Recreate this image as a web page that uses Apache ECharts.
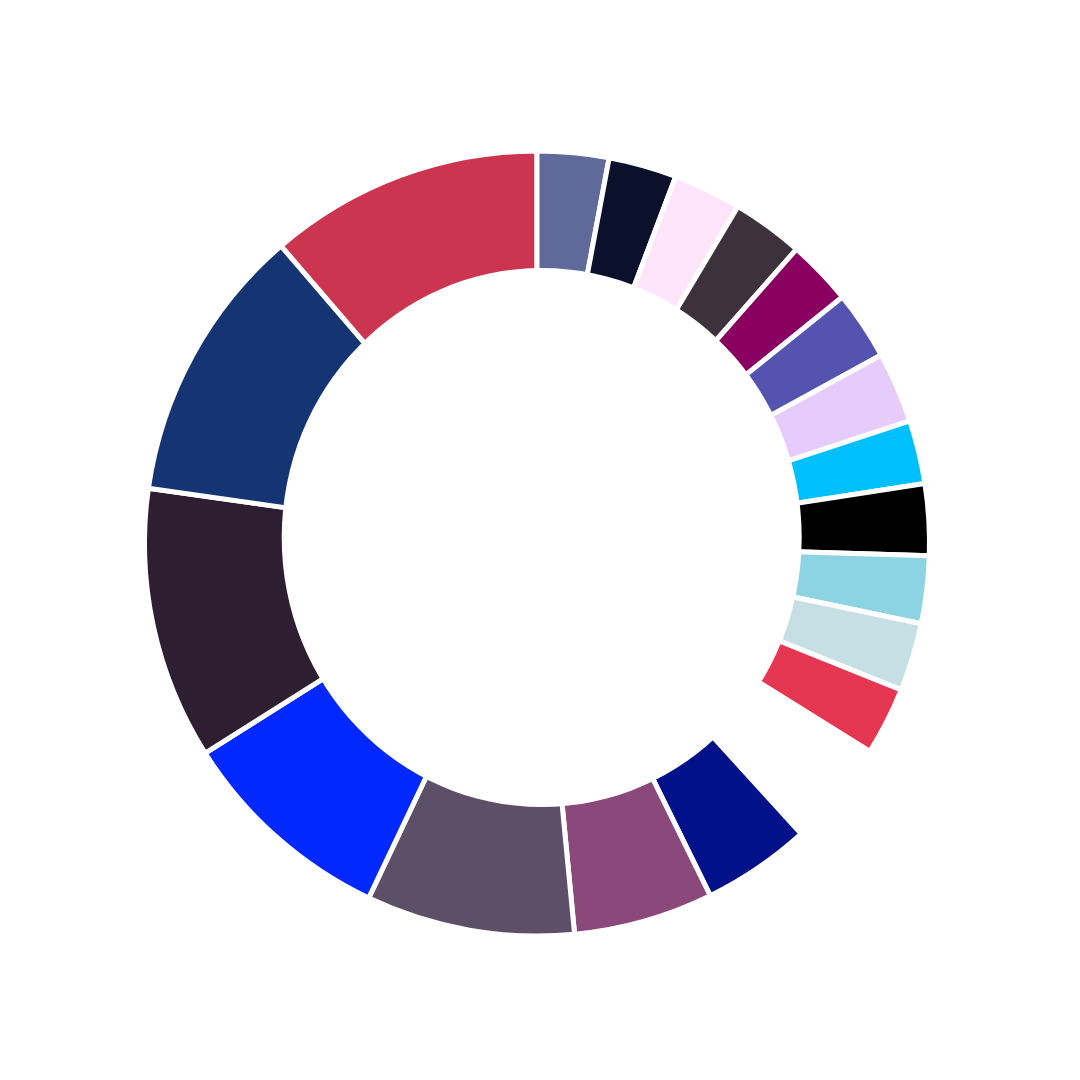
<!DOCTYPE html>
<html>
<head>
<meta charset="utf-8">
<script src="https://cdn.jsdelivr.net/npm/echarts@6/dist/echarts.min.js"></script>
<style>
html,body{margin:0;padding:0;background:#ffffff;}
#chart{width:1080px;height:1080px;}
</style>
</head>
<body>
<div id="chart"></div>
<script>
var categories = ['S1','S2','S3','S4','S5','S6','S7','S8','S9','S10','S11','S12','S13','S14','S15','S16','S17','S18','S19'];
var values = [16.1, 20.7, 30.9, 32.3, 40.4, 41.2, 40.7, 10.6, 10.1, 10.1, 10.6, 9.7, 10.2, 10.5, 9.4, 10.6, 10.0, 10.1, 10.1];
var colors = ['#00118A','#8B487B','#5E4F68','#0028FF','#2D1E31','#143473','#CC354F','#5F6A9A','#0B102B','#FEE5F9','#3D323C','#8A0060','#5553B0','#E6CCFB','#00BFFF','#000000','#8DD4E3','#C5DFE4','#E63752'];

var chart = echarts.init(document.getElementById('chart'), null, {renderer:'canvas'});
var data = categories.map(function(c,i){
  return {name:c, value:values[i], itemStyle:{color:colors[i]}};
});
chart.setOption({
  animation:false,
  backgroundColor:'#ffffff',
  graphic:[{
    type:'ellipse',
    z:100,
    silent:true,
    shape:{cx:541.7, cy:537.5, rx:260, ry:269.5},
    style:{fill:'#ffffff'}
  }],
  series:[{
    type:'pie',
    center:[537,543.5],
    radius:[235,392.5],
    startAngle:312.3,
    endAngle:-32.0,
    clockwise:true,
    label:{show:false},
    labelLine:{show:false},
    itemStyle:{borderColor:'#ffffff',borderWidth:5},
    data:data
  }]
});
</script>
</body>
</html>
